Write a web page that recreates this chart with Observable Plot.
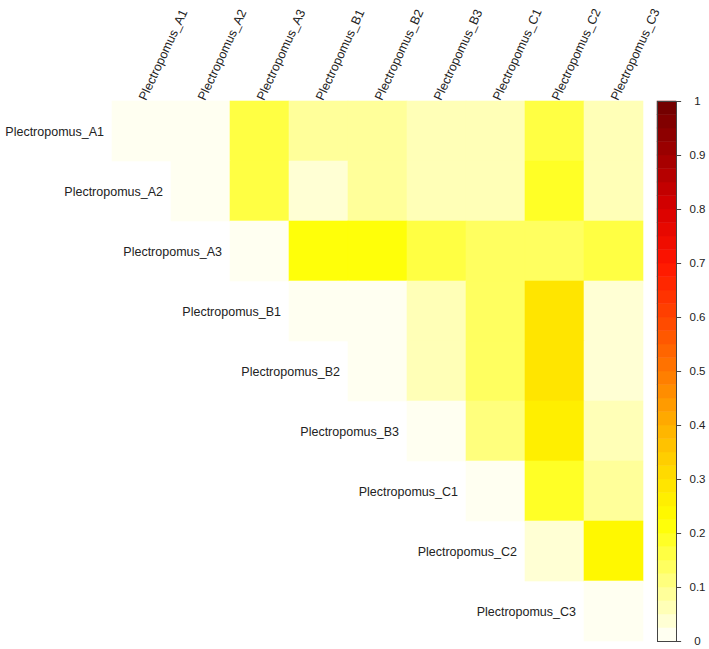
<!DOCTYPE html>
<html>
<head>
<meta charset="utf-8">
<script src="https://cdn.jsdelivr.net/npm/d3@7"></script>
<script src="https://cdn.jsdelivr.net/npm/@observablehq/plot@0.6"></script>
<style>
  html, body { margin: 0; padding: 0; background: #fff; }
  #wrap { position: relative; width: 709px; height: 649px; background: #fff; }
  #wrap svg { position: absolute; top: 0; }
</style>
</head>
<body>
<div id="wrap"></div>
<script>
// Categories (rows and columns)
const species = [
  "Plectropomus_A1", "Plectropomus_A2", "Plectropomus_A3",
  "Plectropomus_B1", "Plectropomus_B2", "Plectropomus_B3",
  "Plectropomus_C1", "Plectropomus_C2", "Plectropomus_C3"
];

// Upper-triangle values, each row starts at its own diagonal column
const rowA1 = [0.015, 0.015, 0.165, 0.088, 0.095, 0.06, 0.06, 0.165, 0.05];
const rowA2 = [0.015, 0.165, 0.045, 0.08, 0.06, 0.06, 0.19, 0.05];
const rowA3 = [0.012, 0.2, 0.205, 0.165, 0.13, 0.13, 0.16];
const rowB1 = [0.015, 0.02, 0.06, 0.13, 0.29, 0.025];
const rowB2 = [0.015, 0.06, 0.13, 0.29, 0.045];
const rowB3 = [0.02, 0.115, 0.25, 0.05];
const rowC1 = [0.02, 0.18, 0.09];
const rowC2 = [0.025, 0.235];
const rowC3 = [0.02];
const rows = [rowA1, rowA2, rowA3, rowB1, rowB2, rowB3, rowC1, rowC2, rowC3];

// Colour bar
const legendTicks = [0, 0.1, 0.2, 0.3, 0.4, 0.5, 0.6, 0.7, 0.8, 0.9, 1];
const colorStops = [0, 0.22, 0.3, 0.4, 0.5, 0.6, 0.7, 0.8, 0.9, 1];
const colorValues = ["#ffffff", "#ffff00", "#ffe000", "#ffb000", "#ff7800", "#ff4500", "#ff1500", "#d80000", "#a00000", "#6e0000"];
const nBins = 40;

const ramp = d3.scaleLinear().domain(colorStops).range(colorValues).interpolate(d3.interpolateRgb);
const thresholds = d3.range(1, nBins).map(i => i / nBins);
const binColors = d3.range(nBins).map(i => ramp((i + 0.5) / nBins));
const colorScale = {type: "threshold", domain: thresholds, range: binColors};

const cells = [];
rows.forEach((vals, i) => vals.forEach((v, k) => cells.push({row: species[i], col: species[i + k], value: v})));

const font = "'Liberation Sans', Arial, Helvetica, sans-serif";

const main = Plot.plot({
  width: 650, height: 649,
  marginLeft: 108, marginRight: 3, marginTop: 101, marginBottom: 8,
  x: {domain: species, axis: null, padding: 0},
  y: {domain: species, axis: null, padding: 0},
  color: colorScale,
  style: {fontFamily: font, fontSize: "12.5px", background: "transparent", color: "#222", overflow: "visible"},
  marks: [
    Plot.cell(cells, {x: "col", y: "row", fill: "value", stroke: "value", strokeWidth: 0.6}),
    Plot.text(species, {x: d => d, y: d => d, dx: -38, textAnchor: "end", fill: "#222"}),
    Plot.text(species, {x: d => d, frameAnchor: "top", dy: -4, dx: -4, rotate: -65, textAnchor: "start", fill: "#222"})
  ]
});

const bins = d3.range(nBins).map(i => ({y1: i / nBins, y2: (i + 1) / nBins, v: (i + 0.5) / nBins}));

const bar = Plot.plot({
  width: 59, height: 649,
  marginLeft: 7, marginRight: 33, marginTop: 101, marginBottom: 8,
  x: {domain: [0, 1], axis: null},
  y: {domain: [0, 1], axis: null},
  color: colorScale,
  style: {fontFamily: font, fontSize: "11.5px", background: "transparent", color: "#222", overflow: "visible"},
  marks: [
    Plot.rect(bins, {x1: 0, x2: 1, y1: "y1", y2: "y2", fill: "v", stroke: "v", strokeWidth: 0.5}),
    Plot.frame({stroke: "#444", strokeWidth: 1}),
    Plot.ruleY(legendTicks, {y: d => d, x1: 1, x2: 1.27, stroke: "#444"}),
    Plot.text(legendTicks, {y: d => d, frameAnchor: "right", dx: 21, textAnchor: "middle", fill: "#222", text: d => String(d)})
  ]
});

const wrap = document.getElementById("wrap");
main.style.left = "0px";
bar.style.left = "650px";
wrap.appendChild(bar);
wrap.appendChild(main);
</script>
</body>
</html>
